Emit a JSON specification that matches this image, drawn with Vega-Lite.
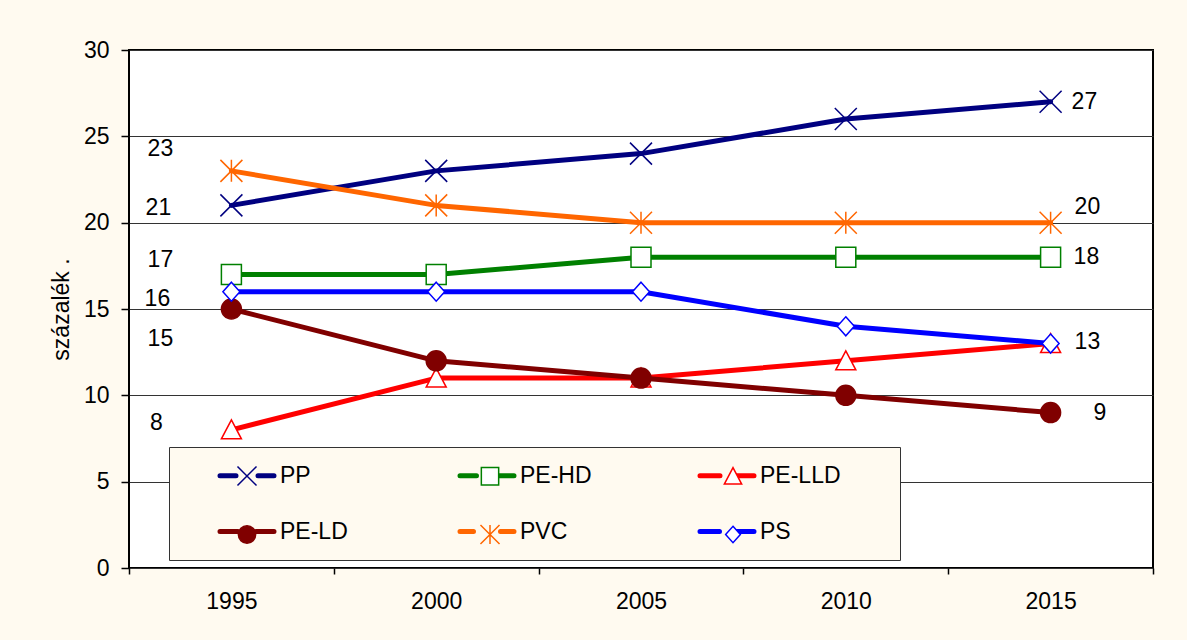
{
  "$schema": "https://vega.github.io/schema/vega-lite/v6.json",
  "width": 1024,
  "height": 518,
  "autosize": {"type": "none"},
  "padding": {"left": 129, "top": 50, "right": 34, "bottom": 72},
  "background": "#FFFAF0",
  "config": {
    "font": "Liberation Sans",
    "view": {"fill": "white", "stroke": "black", "strokeWidth": 2},
    "axis": {
      "labelFont": "Liberation Sans",
      "labelFontSize": 23,
      "labelColor": "black",
      "tickColor": "black",
      "tickWidth": 1.5,
      "domain": false,
      "titleFont": "Liberation Sans",
      "titleColor": "black",
      "titleFontWeight": "normal"
    },
    "text": {"fontSize": 23, "font": "Liberation Sans", "color": "black", "baseline": "middle"}
  },
  "data": {
    "values": [
      {"year": "1995", "series": "PP", "value": 21},
      {"year": "2000", "series": "PP", "value": 23},
      {"year": "2005", "series": "PP", "value": 24},
      {"year": "2010", "series": "PP", "value": 26},
      {"year": "2015", "series": "PP", "value": 27},
      {"year": "1995", "series": "PE-HD", "value": 17},
      {"year": "2000", "series": "PE-HD", "value": 17},
      {"year": "2005", "series": "PE-HD", "value": 18},
      {"year": "2010", "series": "PE-HD", "value": 18},
      {"year": "2015", "series": "PE-HD", "value": 18},
      {"year": "1995", "series": "PE-LLD", "value": 8},
      {"year": "2000", "series": "PE-LLD", "value": 11},
      {"year": "2005", "series": "PE-LLD", "value": 11},
      {"year": "2010", "series": "PE-LLD", "value": 12},
      {"year": "2015", "series": "PE-LLD", "value": 13},
      {"year": "1995", "series": "PE-LD", "value": 15},
      {"year": "2000", "series": "PE-LD", "value": 12},
      {"year": "2005", "series": "PE-LD", "value": 11},
      {"year": "2010", "series": "PE-LD", "value": 10},
      {"year": "2015", "series": "PE-LD", "value": 9},
      {"year": "1995", "series": "PVC", "value": 23},
      {"year": "2000", "series": "PVC", "value": 21},
      {"year": "2005", "series": "PVC", "value": 20},
      {"year": "2010", "series": "PVC", "value": 20},
      {"year": "2015", "series": "PVC", "value": 20},
      {"year": "1995", "series": "PS", "value": 16},
      {"year": "2000", "series": "PS", "value": 16},
      {"year": "2005", "series": "PS", "value": 16},
      {"year": "2010", "series": "PS", "value": 14},
      {"year": "2015", "series": "PS", "value": 13}
    ]
  },
  "encoding": {
    "x": {"field": "year", "type": "ordinal", "bandPosition": 0.5, "title": null},
    "y": {"field": "value", "type": "quantitative"}
  },
  "layer": [
    {
      "mark": {"type": "line", "strokeWidth": 5, "strokeCap": "round", "strokeJoin": "round"},
      "encoding": {
        "x": {
          "field": "year", "type": "ordinal", "bandPosition": 0.5, "title": null,
          "scale": {"type": "band", "paddingInner": 0, "paddingOuter": 0},
          "axis": {"tickBand": "extent", "tickSize": 6, "labelPadding": 16, "labelAngle": 0, "grid": false}
        },
        "y": {
          "field": "value", "type": "quantitative",
          "scale": {"domain": [0, 30], "nice": false, "zero": true},
          "axis": {
            "values": [0, 5, 10, 15, 20, 25, 30],
            "tickSize": 8, "labelPadding": 12,
            "grid": true, "gridColor": "#333333", "gridWidth": 1,
            "title": "százalék  .", "titleFontSize": 23, "titlePadding": 10
          }
        },
        "color": {
          "field": "series", "type": "nominal",
          "scale": {
            "domain": ["PP", "PE-HD", "PE-LLD", "PE-LD", "PVC", "PS"],
            "range": ["#000080", "#008000", "#FF0000", "#800000", "#FF6600", "#0000FF"]
          },
          "legend": {
            "orient": "none", "legendX": 40, "legendY": 397,
            "title": null, "columns": 3, "direction": "horizontal", "gridAlign": "all",
            "symbolType": "stroke", "symbolSize": 400, "symbolStrokeWidth": 5, "symbolOffset": 49.5,
            "labelFont": "Liberation Sans", "labelFontSize": 23, "labelColor": "black",
            "labelOffset": 20.5, "labelLimit": 0,
            "columnPadding": 21, "rowPadding": 31, "padding": 16,
            "strokeColor": "#333333", "fillColor": "#FFFAF0", "zindex": 0,
            "encode": {
              "symbols": {
                "update": {
                  "shape": {"signal": "datum.value === 'PP' ? 'M-2.7,0L-1.1,0M1.1,0L2.7,0M14.7,0' : datum.value === 'PVC' ? 'M-2.7,0L-1.35,0M1.35,0L2.7,0M14.7,0' : datum.value === 'PE-HD' ? 'M-2.7,0L-1.05,0M1.05,0L2.7,0M14.7,0' : datum.value === 'PS' ? 'M-2.7,0L-0.75,0M0.75,0L2.7,0M14.7,0' : datum.value === 'PE-LLD' ? 'M-2.7,0L-0.7,0M0.7,0L2.7,0M14.7,0' : 'M-2.7,0L-0.9,0M0.9,0L2.7,0M14.7,0'"},
                  "strokeCap": {"value": "round"}
                }
              }
            }
          }
        }
      }
    },
    {
      "mark": {"type": "point", "filled": true, "size": 400, "strokeWidth": 1.5, "opacity": 1},
      "encoding": {
        "shape": {
          "field": "series", "type": "nominal",
          "scale": {
            "domain": ["PP", "PE-HD", "PE-LLD", "PE-LD", "PVC", "PS"],
            "range": [
              "M-1.1,-1.1L1.1,1.1M-1.1,1.1L1.1,-1.1",
              "square",
              "M0,-1L1,0.9L-1,0.9Z",
              "circle",
              "M-1.1,-1.1L1.1,1.1M-1.1,1.1L1.1,-1.1M0,-1.1L0,1.1",
              "M0,-0.95L0.85,0L0,0.95L-0.85,0Z"
            ]
          },
          "legend": {
            "orient": "none", "legendX": 106.5, "legendY": 414,
            "title": null, "columns": 3, "direction": "horizontal", "gridAlign": "all",
            "symbolSize": 300, "symbolStrokeWidth": 1.5, "symbolOpacity": 1,
            "labelFontSize": 23, "labelOffset": -12, "labelExpr": "''",
            "columnPadding": 216, "rowPadding": 32, "padding": 0, "zindex": 1
          }
        },
        "stroke": {
          "field": "series", "type": "nominal",
          "scale": {
            "domain": ["PP", "PE-HD", "PE-LLD", "PE-LD", "PVC", "PS"],
            "range": ["#000080", "#008000", "#FF0000", "#800000", "#FF6600", "#0000FF"]
          },
          "legend": {
            "orient": "none", "legendX": 106.5, "legendY": 414,
            "title": null, "columns": 3, "direction": "horizontal", "gridAlign": "all",
            "symbolSize": 300, "symbolStrokeWidth": 1.5, "symbolOpacity": 1,
            "labelFontSize": 23, "labelOffset": -12, "labelExpr": "''",
            "columnPadding": 216, "rowPadding": 32, "padding": 0, "zindex": 1
          }
        },
        "fill": {
          "field": "series", "type": "nominal",
          "scale": {
            "domain": ["PP", "PE-HD", "PE-LLD", "PE-LD", "PVC", "PS"],
            "range": ["white", "white", "white", "#800000", "white", "white"]
          },
          "legend": {
            "orient": "none", "legendX": 106.5, "legendY": 414,
            "title": null, "columns": 3, "direction": "horizontal", "gridAlign": "all",
            "symbolSize": 300, "symbolStrokeWidth": 1.5, "symbolOpacity": 1,
            "labelFontSize": 23, "labelOffset": -12, "labelExpr": "''",
            "columnPadding": 216, "rowPadding": 32, "padding": 0, "zindex": 1
          }
        }
      }
    },
    {
      "transform": [{"filter": "datum.year == '1995' && datum.series == 'PVC'"}],
      "mark": {"type": "text", "dx": -71, "dy": -22, "align": "center"},
      "encoding": {"text": {"field": "value", "type": "quantitative"}}
    },
    {
      "transform": [{"filter": "datum.year == '1995' && datum.series == 'PP'"}],
      "mark": {"type": "text", "dx": -73, "dy": 3, "align": "center"},
      "encoding": {"text": {"field": "value", "type": "quantitative"}}
    },
    {
      "transform": [{"filter": "datum.year == '1995' && datum.series == 'PE-HD'"}],
      "mark": {"type": "text", "dx": -71, "dy": -14, "align": "center"},
      "encoding": {"text": {"field": "value", "type": "quantitative"}}
    },
    {
      "transform": [{"filter": "datum.year == '1995' && datum.series == 'PS'"}],
      "mark": {"type": "text", "dx": -74, "dy": 7, "align": "center"},
      "encoding": {"text": {"field": "value", "type": "quantitative"}}
    },
    {
      "transform": [{"filter": "datum.year == '1995' && datum.series == 'PE-LD'"}],
      "mark": {"type": "text", "dx": -71, "dy": 30, "align": "center"},
      "encoding": {"text": {"field": "value", "type": "quantitative"}}
    },
    {
      "transform": [{"filter": "datum.year == '1995' && datum.series == 'PE-LLD'"}],
      "mark": {"type": "text", "dx": -75, "dy": -7, "align": "center"},
      "encoding": {"text": {"field": "value", "type": "quantitative"}}
    },
    {
      "transform": [{"filter": "datum.year == '2015' && datum.series == 'PP'"}],
      "mark": {"type": "text", "dx": 21, "dy": 0, "align": "left"},
      "encoding": {"text": {"field": "value", "type": "quantitative"}}
    },
    {
      "transform": [{"filter": "datum.year == '2015' && datum.series == 'PVC'"}],
      "mark": {"type": "text", "dx": 24, "dy": -16, "align": "left"},
      "encoding": {"text": {"field": "value", "type": "quantitative"}}
    },
    {
      "transform": [{"filter": "datum.year == '2015' && datum.series == 'PE-HD'"}],
      "mark": {"type": "text", "dx": 23, "dy": 0, "align": "left"},
      "encoding": {"text": {"field": "value", "type": "quantitative"}}
    },
    {
      "transform": [{"filter": "datum.year == '2015' && datum.series == 'PS'"}],
      "mark": {"type": "text", "dx": 24, "dy": -2, "align": "left"},
      "encoding": {"text": {"field": "value", "type": "quantitative"}}
    },
    {
      "transform": [{"filter": "datum.year == '2015' && datum.series == 'PE-LD'"}],
      "mark": {"type": "text", "dx": 43, "dy": 0, "align": "left"},
      "encoding": {"text": {"field": "value", "type": "quantitative"}}
    }
  ],
  "resolve": {
    "legend": {"color": "independent", "shape": "independent", "stroke": "independent", "fill": "independent"}
  }
}
